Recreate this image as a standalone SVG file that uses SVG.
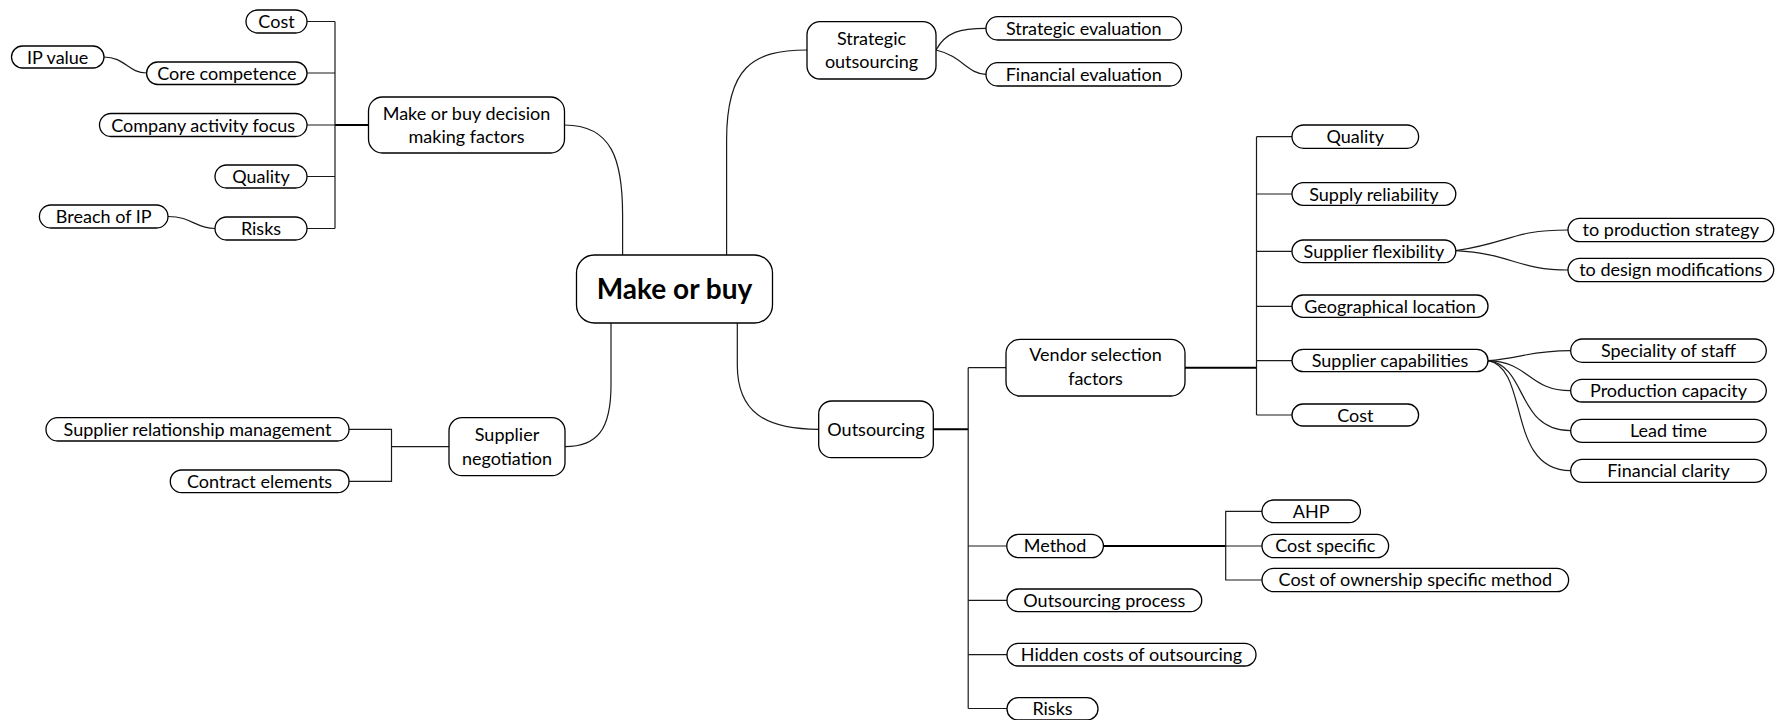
<svg xmlns="http://www.w3.org/2000/svg" width="1783" height="720" viewBox="0 0 1783 720">
  <style>
    .box { fill: #ffffff; stroke: #000000; stroke-width: 1.3; }
    .t { font-family: Lato, "Liberation Sans", sans-serif; font-size: 18px; text-anchor: middle; fill: #000000; }
    .title { font-family: Lato, "Liberation Sans", sans-serif; font-size: 28px; font-weight: bold; text-anchor: middle; fill: #000000; }
    .ln { fill: none; stroke: #1a1a1a; stroke-width: 1.2; }
    .stem { fill: none; stroke: #000000; stroke-width: 2; }
  </style>
  <rect width="1783" height="720" fill="#ffffff"/>

  <!-- connectors -->
  <g id="connectors">
    <!-- root to main branches -->
    <path class="ln" d="M564.5,125 C612,125 622.6,160 622.6,215 L622.6,255"/>
    <path class="ln" d="M726.6,255 L726.6,140 C726.6,68 752,50 807,50"/>
    <path class="ln" d="M611,323 L611,385 C611,430 597,446.7 565,446.7"/>
    <path class="ln" d="M737.3,323 L737.3,365 C737.3,412 765,429.3 818.7,429.3"/>

    <!-- make or buy decision making factors -->
    <path class="stem" d="M335,125 H368.5"/>
    <path class="ln" d="M335,21.5 V228.5"/>
    <path class="ln" d="M307,21.5 H335 M307,73 H335 M307,125 H335 M307,176.5 H335 M307,228.5 H335"/>
    <path class="ln" d="M104,57 C125,57 128,73 146.6,73"/>
    <path class="ln" d="M168,216.5 C192,216.5 195,228.5 215,228.5"/>

    <!-- strategic outsourcing -->
    <path class="ln" d="M936,50 C946,32 960,28.3 986,28.3"/>
    <path class="ln" d="M936,50 C962,56 968,74.3 986,74.3"/>

    <!-- supplier negotiation -->
    <path class="ln" d="M391.5,446.7 H449"/>
    <path class="ln" d="M349,429.3 H391.5 V481.3 H349"/>

    <!-- outsourcing -->
    <path class="stem" d="M933.3,429.3 H968.2"/>
    <path class="ln" d="M968.2,367.7 V708.5"/>
    <path class="ln" d="M968.2,367.7 H1006 M968.2,546 H1006.8 M968.2,600.3 H1007 M968.2,654.7 H1007 M968.2,708.5 H1007"/>

    <!-- vendor selection factors -->
    <path class="stem" d="M1185,367.7 H1256.5"/>
    <path class="ln" d="M1256.5,136.7 V415"/>
    <path class="ln" d="M1256.5,136.7 H1292 M1256.5,194 H1292 M1256.5,251.3 H1292 M1256.5,306.3 H1292 M1256.5,360.7 H1292 M1256.5,415 H1292"/>
    <path class="ln" d="M1455.8,250.7 C1512,242 1512,230 1568,230"/>
    <path class="ln" d="M1455.8,250.7 C1512,254 1518,270 1568,270"/>
    <path class="ln" d="M1488,360.7 C1522,358 1530,350.7 1570.7,350.7"/>
    <path class="ln" d="M1488,360.7 C1530,362 1528,390.7 1570.7,390.7"/>
    <path class="ln" d="M1488,360.7 C1528,366 1516,430.7 1570.7,430.7"/>
    <path class="ln" d="M1488,360.7 C1530,368 1506,470.7 1570.7,470.7"/>

    <!-- method -->
    <path class="stem" d="M1103.4,546 H1225.7"/>
    <path class="ln" d="M1262,511.3 H1225.7 V580 H1262 M1225.7,546 H1262"/>
  </g>

  <!-- root -->
  <g id="make-or-buy">
    <rect class="box" x="576.5" y="255" width="196" height="68" rx="18"/>
    <text class="title" x="674.5" y="299">Make or buy</text>
  </g>

  <!-- make or buy decision making factors -->
  <g id="decision-factors">
    <rect class="box" x="368.5" y="97" width="196" height="56" rx="14"/>
    <text class="t" x="466.5" y="120">Make or buy decision</text>
    <text class="t" x="466.5" y="143">making factors</text>
  </g>
  <g id="df-cost">
    <rect class="box" x="246" y="10" width="61" height="23" rx="11.5"/>
    <text class="t" x="276.5" y="28">Cost</text>
  </g>
  <g id="df-core-competence">
    <rect class="box" x="146.6" y="62" width="160.4" height="22.5" rx="11.2"/>
    <text class="t" x="226.8" y="79.5">Core competence</text>
  </g>
  <g id="df-ip-value">
    <rect class="box" x="11.5" y="46" width="92.5" height="22" rx="11"/>
    <text class="t" x="57.7" y="63.5">IP value</text>
  </g>
  <g id="df-activity-focus">
    <rect class="box" x="99.5" y="113.5" width="207.5" height="23" rx="11.5"/>
    <text class="t" x="203.2" y="131.5">Company activity focus</text>
  </g>
  <g id="df-quality">
    <rect class="box" x="215" y="165" width="92" height="23" rx="11.5"/>
    <text class="t" x="261" y="183">Quality</text>
  </g>
  <g id="df-risks">
    <rect class="box" x="215" y="217" width="92" height="23" rx="11.5"/>
    <text class="t" x="261" y="235">Risks</text>
  </g>
  <g id="df-breach-of-ip">
    <rect class="box" x="39.4" y="205" width="128.6" height="23" rx="11.5"/>
    <text class="t" x="103.7" y="223">Breach of IP</text>
  </g>

  <!-- strategic outsourcing -->
  <g id="strategic-outsourcing">
    <rect class="box" x="807" y="21.7" width="129" height="57.3" rx="13"/>
    <text class="t" x="871.5" y="45">Strategic</text>
    <text class="t" x="871.5" y="68">outsourcing</text>
  </g>
  <g id="so-strategic-evaluation">
    <rect class="box" x="986" y="16.7" width="195.5" height="23.3" rx="11.6"/>
    <text class="t" x="1083.7" y="34.8">Strategic evaluation</text>
  </g>
  <g id="so-financial-evaluation">
    <rect class="box" x="986" y="62.7" width="195.5" height="23.3" rx="11.6"/>
    <text class="t" x="1083.7" y="80.8">Financial evaluation</text>
  </g>

  <!-- supplier negotiation -->
  <g id="supplier-negotiation">
    <rect class="box" x="449" y="417.7" width="116" height="58" rx="13"/>
    <text class="t" x="507" y="441">Supplier</text>
    <text class="t" x="507" y="465">negotiation</text>
  </g>
  <g id="sn-relationship-management">
    <rect class="box" x="46" y="417.7" width="303" height="23.3" rx="11.6"/>
    <text class="t" x="197.5" y="435.8">Supplier relationship management</text>
  </g>
  <g id="sn-contract-elements">
    <rect class="box" x="170.3" y="470" width="178.7" height="22.7" rx="11.3"/>
    <text class="t" x="259.6" y="487.8">Contract elements</text>
  </g>

  <!-- outsourcing -->
  <g id="outsourcing">
    <rect class="box" x="818.7" y="401" width="114.6" height="56.7" rx="13"/>
    <text class="t" x="876" y="435.5">Outsourcing</text>
  </g>
  <g id="vendor-selection">
    <rect class="box" x="1006" y="339.3" width="179" height="56.7" rx="14"/>
    <text class="t" x="1095.5" y="361">Vendor selection</text>
    <text class="t" x="1095.5" y="385">factors</text>
  </g>
  <g id="vs-quality">
    <rect class="box" x="1292" y="125" width="126.6" height="23.3" rx="11.6"/>
    <text class="t" x="1355.3" y="143">Quality</text>
  </g>
  <g id="vs-supply-reliability">
    <rect class="box" x="1292" y="182.7" width="163.8" height="22.6" rx="11.3"/>
    <text class="t" x="1373.9" y="200.5">Supply reliability</text>
  </g>
  <g id="vs-supplier-flexibility">
    <rect class="box" x="1292" y="240" width="163.8" height="22.7" rx="11.3"/>
    <text class="t" x="1373.9" y="257.8">Supplier flexibility</text>
  </g>
  <g id="vs-production-strategy">
    <rect class="box" x="1568" y="218.3" width="205.7" height="23.4" rx="11.7"/>
    <text class="t" x="1670.8" y="236.3">to production strategy</text>
  </g>
  <g id="vs-design-modifications">
    <rect class="box" x="1568" y="258.3" width="205.7" height="23.4" rx="11.7"/>
    <text class="t" x="1670.8" y="276.3">to design modifications</text>
  </g>
  <g id="vs-geographical-location">
    <rect class="box" x="1292" y="295" width="196" height="22.3" rx="11.1"/>
    <text class="t" x="1390" y="312.5">Geographical location</text>
  </g>
  <g id="vs-supplier-capabilities">
    <rect class="box" x="1292" y="349.3" width="196" height="22.4" rx="11.2"/>
    <text class="t" x="1390" y="366.8">Supplier capabilities</text>
  </g>
  <g id="vs-speciality-of-staff">
    <rect class="box" x="1570.7" y="339" width="195.6" height="23.3" rx="11.6"/>
    <text class="t" x="1668.5" y="357">Speciality of staff</text>
  </g>
  <g id="vs-production-capacity">
    <rect class="box" x="1570.7" y="379.3" width="195.6" height="22.7" rx="11.3"/>
    <text class="t" x="1668.5" y="397">Production capacity</text>
  </g>
  <g id="vs-lead-time">
    <rect class="box" x="1570.7" y="419.3" width="195.6" height="23" rx="11.5"/>
    <text class="t" x="1668.5" y="437">Lead time</text>
  </g>
  <g id="vs-financial-clarity">
    <rect class="box" x="1570.7" y="459.3" width="195.6" height="23" rx="11.5"/>
    <text class="t" x="1668.5" y="477">Financial clarity</text>
  </g>
  <g id="vs-cost">
    <rect class="box" x="1292" y="404" width="126.6" height="22" rx="11"/>
    <text class="t" x="1355.3" y="421.5">Cost</text>
  </g>
  <g id="method">
    <rect class="box" x="1006.8" y="534.3" width="96.6" height="23.4" rx="11.7"/>
    <text class="t" x="1055.1" y="552.3">Method</text>
  </g>
  <g id="m-ahp">
    <rect class="box" x="1262" y="500" width="98.4" height="22.7" rx="11.3"/>
    <text class="t" x="1311.2" y="517.8">AHP</text>
  </g>
  <g id="m-cost-specific">
    <rect class="box" x="1262" y="534.3" width="126.6" height="23.4" rx="11.7"/>
    <text class="t" x="1325.3" y="552.3">Cost specific</text>
  </g>
  <g id="m-cost-of-ownership">
    <rect class="box" x="1262" y="568.3" width="306.6" height="23.4" rx="11.7"/>
    <text class="t" x="1415.3" y="586.3">Cost of ownership specific method</text>
  </g>
  <g id="outsourcing-process">
    <rect class="box" x="1007" y="589" width="194.7" height="22.7" rx="11.3"/>
    <text class="t" x="1104.3" y="606.8">Outsourcing process</text>
  </g>
  <g id="hidden-costs">
    <rect class="box" x="1007" y="643.3" width="249" height="22.7" rx="11.3"/>
    <text class="t" x="1131.5" y="661.1">Hidden costs of outsourcing</text>
  </g>
  <g id="outsourcing-risks">
    <rect class="box" x="1007" y="697.7" width="91" height="22.3" rx="11.1"/>
    <text class="t" x="1052.5" y="715.3">Risks</text>
  </g>
</svg>
